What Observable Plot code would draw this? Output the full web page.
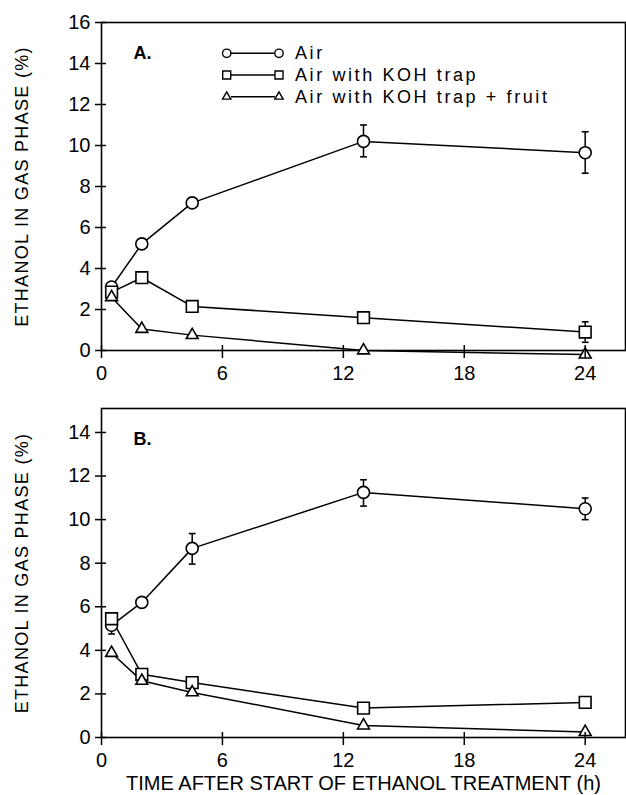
<!DOCTYPE html>
<html><head><meta charset="utf-8">
<script src="https://cdn.jsdelivr.net/npm/d3@7"></script>
<script src="https://cdn.jsdelivr.net/npm/@observablehq/plot@0.6"></script>
<style>
body{margin:0;background:#fff;}
#wrap{position:relative;width:626px;height:795px;font-family:"Liberation Sans",Arial,sans-serif;}
#wrap > svg{position:absolute;left:0;}
[aria-label="y-axis label"]{font-size:18px;letter-spacing:1.3px;}
[aria-label="x-axis label"]{font-size:20px;}
</style></head><body><div id="wrap"></div>
<script>
// ---- data ----
const hours = [0.5, 2, 4.5, 13, 24];
const xTicks = [0, 6, 12, 18, 24];
const yTicksA = [0, 2, 4, 6, 8, 10, 12, 14, 16];
const yTicksB = [0, 2, 4, 6, 8, 10, 12, 14];
const seriesNames = ["Air", "Air with KOH trap", "Air with KOH trap + fruit"];
const seriesSymbols = ["circle", "square", "triangle"];
const yLabel = "ETHANOL IN GAS PHASE (%)";
const xLabel = "TIME AFTER START OF ETHANOL TREATMENT (h)";

// Panel A
const airA    = [3.1, 5.2, 7.2, 10.2, 9.65];
const airA_lo = [null, null, null, 9.45, 8.65];
const airA_hi = [null, null, null, 11.0, 10.67];
const kohA    = [2.85, 3.55, 2.15, 1.6, 0.9];
const kohA_lo = [null, null, null, null, 0.4];
const kohA_hi = [null, null, null, null, 1.4];
const fruitA  = [2.6, 1.05, 0.75, 0.0, -0.2];

// Panel B
const airB    = [5.15, 6.2, 8.68, 11.25, 10.5];
const airB_lo = [4.75, null, 7.96, 10.62, 10.0];
const airB_hi = [5.55, null, 9.36, 11.83, 10.99];
const kohB    = [5.45, 2.9, 2.52, 1.35, 1.61];
const fruitB  = [3.88, 2.6, 2.07, 0.55, 0.25];

// ---- build tables ----
function rows(series, vals, lo, hi) {
  return vals.map((v, i) => ({series, x: hours[i], y: v, lo: lo ? lo[i] : null, hi: hi ? hi[i] : null}));
}
const dataA = [
  ...rows(seriesNames[0], airA, airA_lo, airA_hi),
  ...rows(seriesNames[1], kohA, kohA_lo, kohA_hi),
  ...rows(seriesNames[2], fruitA)
];
const dataB = [
  ...rows(seriesNames[0], airB, airB_lo, airB_hi),
  ...rows(seriesNames[1], kohB),
  ...rows(seriesNames[2], fruitB)
];

const capSymbol = {draw(ctx, size) { const r = 3.4; ctx.moveTo(-r, 0); ctx.lineTo(r, 0); }};
const symR = [6, 6.6, 4.4];
const W = 626, ML = 101, MR = 1;

function panel({height, marginTop, marginBottom, yDomain, yTicks, tag, xlab}) {
  return function(data) {
    const err = data.filter(d => d.lo != null);
    const plotH = height - marginTop - marginBottom;
    const plotW = W - ML - MR;
    return Plot.plot({
      width: W, height, marginLeft: ML, marginRight: MR, marginTop, marginBottom,
      x: {domain: [0, 26]},
      y: {domain: yDomain},
      style: {background: "transparent", color: "black", fontFamily: "'Liberation Sans', Arial, sans-serif", overflow: "visible"},
      marks: [
        Plot.frame({stroke: "black", strokeWidth: 1.6}),
        Plot.ruleX(err, {x: "x", y1: "lo", y2: "hi", stroke: "black", strokeWidth: 1.5}),
        Plot.dot(err, {x: "x", y: "lo", symbol: capSymbol, r: 3, stroke: "black", fill: "none", strokeWidth: 1.6}),
        Plot.dot(err, {x: "x", y: "hi", symbol: capSymbol, r: 3, stroke: "black", fill: "none", strokeWidth: 1.6}),
        ...seriesNames.map(s => Plot.line(data.filter(d => d.series === s), {x: "x", y: "y", stroke: "black", strokeWidth: 1.5})),
        ...seriesNames.map((s, i) => Plot.dot(data.filter(d => d.series === s), {x: "x", y: "y", symbol: seriesSymbols[i], r: symR[i], fill: "white", stroke: "black", strokeWidth: 1.6})),
        Plot.text([tag], {frameAnchor: "top-left", dx: 32, dy: 24, lineAnchor: "top", textAnchor: "start", fontSize: 18, fontWeight: "bold", text: d => d}),
        Plot.axisY({ticks: yTicks, tickSize: 6, tickPadding: 5, fontSize: 20, strokeWidth: 1.5,
          label: yLabel, labelAnchor: "center", labelOffset: 86, labelArrow: "none"}),
        Plot.ruleY(yTicks, {y: d => d, insetRight: plotW - 5, stroke: "black", strokeWidth: 1.5}),
        Plot.axisX({ticks: xTicks, tickSize: 8, tickPadding: 7, fontSize: 20, strokeWidth: 1.5,
          label: xlab, labelAnchor: "center", labelOffset: 52, labelArrow: "none"}),
        Plot.ruleX(xTicks, {x: d => d, insetTop: plotH - 5, stroke: "black", strokeWidth: 1.5})
      ]
    });
  };
}

const wrap = document.getElementById("wrap");
const svgA = panel({height: 390, marginTop: 22, marginBottom: 40, yDomain: [0, 16], yTicks: yTicksA, tag: "A.", xlab: null})(dataA);
svgA.style.top = "0px";
wrap.appendChild(svgA);
const svgB = panel({height: 405, marginTop: 18, marginBottom: 58, yDomain: [0, 15.1], yTicks: yTicksB, tag: "B.", xlab: xLabel})(dataB);
svgB.style.top = "390px";
wrap.appendChild(svgB);

// ---- legend (inside panel A) ----
const legendRowsY = [53.3, 75, 96.7];
const lg = d3.select(wrap).append("svg")
  .attr("width", W).attr("height", 120)
  .style("position", "absolute").style("left", "0px").style("top", "0px");
const symMap = {circle: d3.symbolCircle, square: d3.symbolSquare, triangle: d3.symbolTriangle2};
const legendSizes = [55, 64, 50];
seriesNames.forEach((name, i) => {
  const g = lg.append("g").attr("transform", `translate(0,${legendRowsY[i]})`);
  g.append("line").attr("x1", 231).attr("x2", 275).attr("stroke", "black").attr("stroke-width", 1.4);
  [226.7, 279].forEach(cx => g.append("path")
    .attr("d", d3.symbol(symMap[seriesSymbols[i]], legendSizes[i])())
    .attr("transform", `translate(${cx},0)`)
    .attr("fill", "white").attr("stroke", "black").attr("stroke-width", 1.4));
  g.append("text").attr("x", 295).attr("y", 6)
    .attr("font-family", "'Liberation Sans', Arial, sans-serif")
    .attr("font-size", 18).attr("letter-spacing", "2.6px")
    .text(name);
});
</script></body></html>
